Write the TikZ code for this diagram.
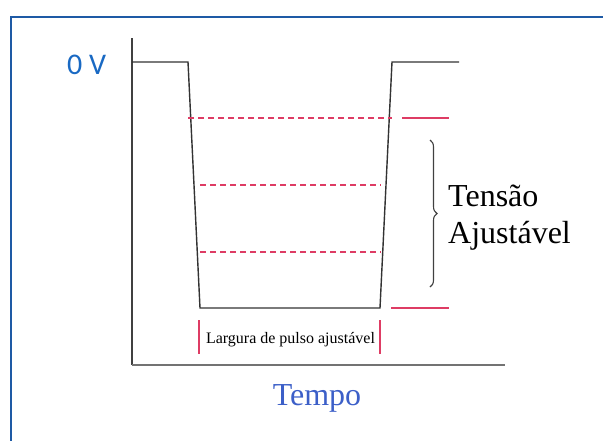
\documentclass[tikz,border=0pt]{standalone}
\usepackage{fontspec}
\setmainfont{Liberation Serif}
\newfontfamily\calib{Carlito}
\usetikzlibrary{decorations.pathreplacing}
\definecolor{frameblue}{RGB}{30,90,165}
\definecolor{zvblue}{RGB}{25,105,195}
\definecolor{tempoblue}{RGB}{60,95,200}
\definecolor{pinkred}{RGB}{222,60,100}
\begin{document}
\begin{tikzpicture}[x=1pt,y=-1pt,
  sigline/.style={draw=black!80,line width=1.4pt},
  dashred/.style={draw=pinkred,line width=1.6pt,dash pattern=on 6pt off 4pt},
  solidred/.style={draw=pinkred,line width=1.6pt},
  bigtxt/.style={font=\fontsize{32}{37}\selectfont,inner sep=0pt},
]
\useasboundingbox (0,0) rectangle (603,440);
\begin{scope}
\clip (0,0) rectangle (603,440);
\draw[frameblue,line width=2.8pt] (11,17) rectangle (640,480);
\end{scope}
% axes
\coordinate (ytop) at (132,38);
\coordinate (orig) at (132,365);
\coordinate (xend) at (505,365);
\draw[draw=black!75,line width=2pt] (ytop) -- (orig);
\draw[draw=black!55,line width=2pt] (orig) -- (xend);
% signal
\coordinate (s0) at (132,62);
\coordinate (s1) at (188,62);
\coordinate (s2) at (200,308);
\coordinate (s3) at (380,308);
\coordinate (s4) at (392,62);
\coordinate (s5) at (459,62);
\draw[sigline] (s0) -- (s1) -- (s2) -- (s3) -- (s4) -- (s5);
% dashed levels
\coordinate (d1a) at (188,118); \coordinate (d1b) at (392,118);
\coordinate (d2a) at (200,185); \coordinate (d2b) at (381,185);
\coordinate (d3a) at (200,252); \coordinate (d3b) at (381,252);
\draw[dashred] (d1a) -- (d1b);
\draw[dashred] (d2a) -- (d2b);
\draw[dashred] (d3a) -- (d3b);
% solid markers
\coordinate (m1a) at (402,118); \coordinate (m1b) at (449,118);
\coordinate (m2a) at (391,308); \coordinate (m2b) at (449,308);
\draw[solidred] (m1a) -- (m1b);
\draw[solidred] (m2a) -- (m2b);
% brace
\coordinate (bt) at (430,140); \coordinate (bb) at (430,287);
\draw[black!75,line width=1.1pt,decorate,decoration={brace,amplitude=7pt}] (bt) -- (bb);
\node[bigtxt,anchor=base west] (tens) at (448,206) {Tensão};
\node[bigtxt,anchor=base west] (ajus) at (448,243) {Ajustável};
% pulse width ticks
\coordinate (t1a) at (199,320); \coordinate (t1b) at (199,354);
\coordinate (t2a) at (380,320); \coordinate (t2b) at (380,354);
\draw[solidred,line width=1.4pt] (t1a) -- (t1b);
\draw[solidred,line width=1.4pt] (t2a) -- (t2b);
\node[font=\fontsize{16}{19}\selectfont,inner sep=0pt,anchor=base] (larg) at (290.5,343) {Largura de pulso ajustável};
% labels
\node[bigtxt,text=tempoblue,anchor=base] (tempo) at (317,405) {Tempo};
\node[font=\calib\fontsize{30}{34}\selectfont,text=zvblue,inner sep=0pt,anchor=base west] (zv) at (67,74) {0 V};
\end{tikzpicture}
\end{document}
